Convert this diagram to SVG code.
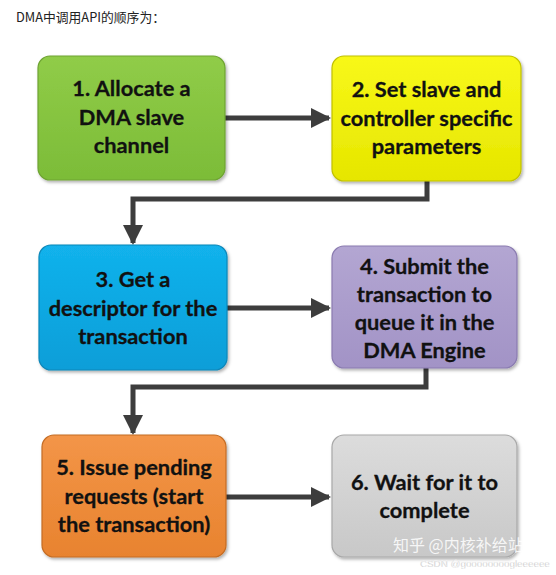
<svg xmlns="http://www.w3.org/2000/svg" width="556" height="575" viewBox="0 0 556 575">
<style>
.box{stroke-width:1.2;filter:url(#sh)}
.t{font-family:Lato,"Open Sans",sans-serif;font-weight:bold;font-size:21.8px;fill:#111;stroke:#111;stroke-width:0.3;text-anchor:middle}
.c{fill:none;stroke:#3d3d3d;stroke-width:5;stroke-linejoin:miter}
.title{font-family:"Noto Sans CJK SC",sans-serif;font-size:12.8px;fill:#222}
</style>
<defs>
<filter id="sh" x="-10%" y="-10%" width="125%" height="125%">
<feDropShadow dx="1.5" dy="2" stdDeviation="1.5" flood-color="#000" flood-opacity="0.3"/>
</filter>
<marker id="ah" viewBox="0 0 10 10" refX="9" refY="5" markerWidth="4" markerHeight="4" markerUnits="strokeWidth" orient="auto">
<path d="M0,0 L10,5 L0,10 Z" fill="#3d3d3d"/>
</marker>
<linearGradient id="g1" x1="0" y1="0" x2="0" y2="1"><stop offset="0" stop-color="#90cc48"/><stop offset="1" stop-color="#7cbc38"/></linearGradient>
<linearGradient id="g2" x1="0" y1="0" x2="0" y2="1"><stop offset="0" stop-color="#f8f818"/><stop offset="1" stop-color="#e6e600"/></linearGradient>
<linearGradient id="g3" x1="0" y1="0" x2="0" y2="1"><stop offset="0" stop-color="#12b2ec"/><stop offset="1" stop-color="#0a9ed8"/></linearGradient>
<linearGradient id="g4" x1="0" y1="0" x2="0" y2="1"><stop offset="0" stop-color="#b3a6d2"/><stop offset="1" stop-color="#a293c6"/></linearGradient>
<linearGradient id="g5" x1="0" y1="0" x2="0" y2="1"><stop offset="0" stop-color="#f39548"/><stop offset="1" stop-color="#e8832f"/></linearGradient>
<linearGradient id="g6" x1="0" y1="0" x2="0" y2="1"><stop offset="0" stop-color="#dcdcdc"/><stop offset="1" stop-color="#c8c8c8"/></linearGradient>
</defs>
<rect width="556" height="575" fill="#fff"/>
<text class="title" x="16" y="22">DMA中调用API的顺序为：</text>
<g id="connectors">
<path class="c" d="M225,118 H329" marker-end="url(#ah)"/>
<path class="c" d="M427,181 V199 H133 V243" marker-end="url(#ah)"/>
<path class="c" d="M227,308 H329" marker-end="url(#ah)"/>
<path class="c" d="M426,368 V387 H133 V433" marker-end="url(#ah)"/>
<path class="c" d="M226,497 H329" marker-end="url(#ah)"/>
</g>
<g id="n1">
<rect class="box" x="38" y="56" width="187" height="124" rx="12" fill="url(#g1)" stroke="#6ea332"/>
<text class="t" x="131.5" y="96">1. Allocate a</text>
<text class="t" x="131.5" y="125">DMA slave</text>
<text class="t" x="131.5" y="153">channel</text>
</g>
<g id="n2">
<rect class="box" x="332" y="56" width="189" height="125" rx="12" fill="url(#g2)" stroke="#c0c000"/>
<text class="t" x="426.5" y="97">2. Set slave and</text>
<text class="t" x="426.5" y="126">controller specific</text>
<text class="t" x="426.5" y="154">parameters</text>
</g>
<g id="n3">
<rect class="box" x="39" y="245" width="188" height="125" rx="12" fill="url(#g3)" stroke="#0a86b8"/>
<text class="t" x="133" y="287">3. Get a</text>
<text class="t" x="133" y="316">descriptor for the</text>
<text class="t" x="133" y="344">transaction</text>
</g>
<g id="n4">
<rect class="box" x="332" y="246" width="185" height="122" rx="12" fill="url(#g4)" stroke="#8a7bb0"/>
<text class="t" x="424.5" y="274">4. Submit the</text>
<text class="t" x="424.5" y="302">transaction to</text>
<text class="t" x="424.5" y="330">queue it in the</text>
<text class="t" x="424.5" y="358">DMA Engine</text>
</g>
<g id="n5">
<rect class="box" x="42" y="435" width="184" height="122" rx="12" fill="url(#g5)" stroke="#c46c24"/>
<text class="t" x="134" y="475">5. Issue pending</text>
<text class="t" x="134" y="504">requests (start</text>
<text class="t" x="134" y="532">the transaction)</text>
</g>
<g id="n6">
<rect class="box" x="332" y="435" width="185" height="122" rx="12" fill="url(#g6)" stroke="#a8a8a8"/>
<text class="t" x="424.5" y="490">6. Wait for it to</text>
<text class="t" x="424.5" y="518">complete</text>
</g>
<text x="393" y="551" font-family="Noto Sans CJK SC,sans-serif" font-size="16" fill="#fff" fill-opacity="0.85">知乎 @内核补给站</text>
<text x="420" y="567" font-family="Liberation Sans,sans-serif" font-size="9.8" fill="#b8b8b8" stroke="#fff" stroke-width="0.3">CSDN @goooooooogleeeeee</text>
</svg>
